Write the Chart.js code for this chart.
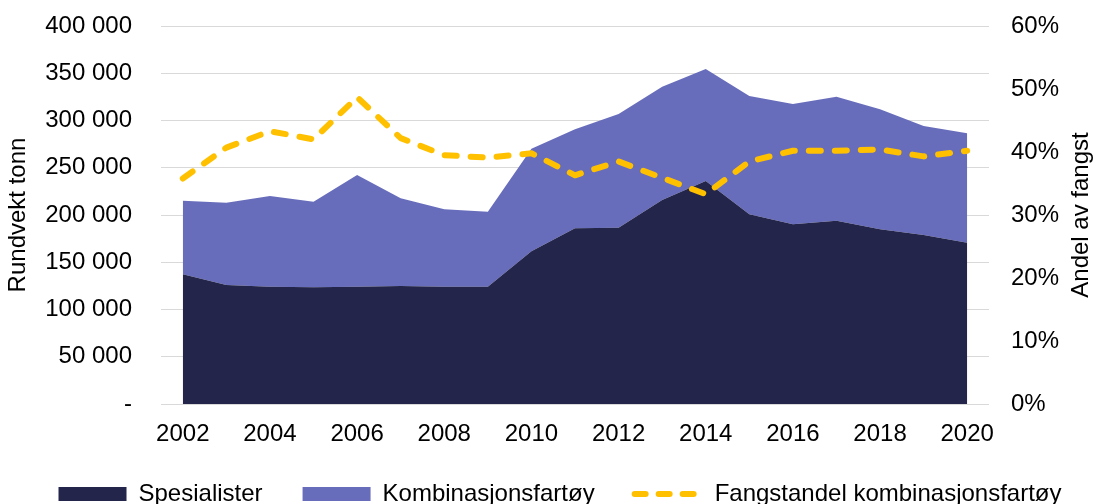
<!DOCTYPE html>
<html lang="no">
<head>
<meta charset="utf-8">
<script src="https://cdn.jsdelivr.net/npm/chart.js@4/dist/chart.umd.min.js"></script>
<style>
  html, body { margin: 0; padding: 0; background: #fff; overflow: hidden; }
  #wrap { width: 1094px; height: 504px; overflow: hidden; }
  #box { position: relative; width: 1094px; height: 524px; }
</style>
</head>
<body>
<div id="wrap"><div id="box"><canvas id="chartFangst"></canvas></div></div>
<script>
// data
const aar = ['2002', '2003', '2004', '2005', '2006', '2007', '2008', '2009', '2010', '2011',
  '2012', '2013', '2014', '2015', '2016', '2017', '2018', '2019', '2020'];
const spesialister = [137200, 125900, 124100, 123500, 124100, 124900, 124100, 124100, 161600, 185900,
  186600, 215900, 236000, 200700, 190200, 194000, 184900, 178800, 170700];
const kombinasjon = [77900, 87100, 96000, 90600, 118200, 92800, 81900, 79400, 108400, 104800,
  120300, 119900, 118500, 125200, 127300, 131200, 126900, 115400, 115700];
const fangstandel = [35.8, 40.7, 43.3, 42.0, 48.7, 42.2, 39.5, 39.1, 39.8, 36.3,
  38.5, 35.9, 33.3, 38.5, 40.2, 40.2, 40.4, 39.3, 40.2];

const FONT = '"Liberation Sans", Arial, sans-serif';
const STR = 24;
const FARGER = {
  navy: '#23254b',
  lilla: '#686dbb',
  gul: '#ffc000',
};
const STREK = [12, 14];

// tittel for høyre akse (leses nedenfra og opp)
const hoyreTittel = {
  id: 'hoyreTittel',
  afterDraw(chart) {
    const { ctx, chartArea } = chart;
    ctx.save();
    ctx.translate(1081, (chartArea.top + chartArea.bottom) / 2);
    ctx.rotate(-Math.PI / 2);
    ctx.font = STR + 'px ' + FONT;
    ctx.fillStyle = '#000';
    ctx.textAlign = 'center';
    ctx.textBaseline = 'middle';
    ctx.fillText('Andel av fangst', 0, 0);
    ctx.restore();
  }
};

// flytt legenden litt, tettere på aksen
const legendeFlytt = {
  id: 'legendeFlytt',
  afterLayout(chart) {
    const lg = chart.legend;
    if (!lg) return;
    lg.top -= 8;
    lg.bottom -= 8;
    lg.left += 13;
    lg.right += 13;
  }
};

// y-aksene skal ikke reservere plass for tick-padding over/under
const fastBredde = w => s => {
  s.width = w;
  s.paddingTop = 14;
  s.paddingBottom = 14;
};

new Chart(document.getElementById('chartFangst'), {
  type: 'line',
  data: {
    labels: aar,
    datasets: [
      {
        label: 'Spesialister',
        data: spesialister,
        yAxisID: 'y',
        backgroundColor: FARGER.navy,
        borderColor: FARGER.navy,
        borderWidth: 0,
        pointRadius: 0,
        fill: 'origin',
        order: 1,
      },
      {
        label: 'Kombinasjonsfartøy',
        data: kombinasjon,
        yAxisID: 'y',
        backgroundColor: FARGER.lilla,
        borderColor: FARGER.lilla,
        borderWidth: 0,
        pointRadius: 0,
        fill: '-1',
        order: 2,
      },
      {
        label: 'Fangstandel kombinasjonsfartøy',
        data: fangstandel,
        yAxisID: 'y1',
        borderColor: FARGER.gul,
        backgroundColor: FARGER.gul,
        borderWidth: 6,
        borderDash: STREK,
        borderCapStyle: 'round',
        borderJoinStyle: 'round',
        pointRadius: 0,
        fill: false,
        order: 0,
      },
    ],
  },
  options: {
    responsive: true,
    maintainAspectRatio: false,
    animation: false,
    layout: { padding: { top: 26, left: 0, right: 0, bottom: 0 } },
    scales: {
      x: {
        offset: true,
        grid: { display: false, drawTicks: false },
        border: { display: false },
        ticks: {
          autoSkip: false,
          maxRotation: 0,
          padding: 16,
          color: '#000',
          font: { family: FONT, size: STR },
          callback: (v, i) => (i % 2 === 0 ? aar[i] : ''),
        },
        afterFit: s => { s.height = 46; },
      },
      y: {
        stacked: true,
        position: 'left',
        min: 0,
        max: 400000,
        ticks: {
          stepSize: 50000,
          padding: 29,
          color: '#000',
          font: { family: FONT, size: STR },
          callback: v => (v === 0 ? '-' : String(v).replace(/\B(?=(\d{3})+(?!\d))/g, ' ')),
        },
        grid: { color: '#d9d9d9', lineWidth: 1, drawTicks: false },
        border: { display: false },
        title: {
          display: true,
          text: 'Rundvekt tonn',
          color: '#000',
          font: { family: FONT, size: STR },
          padding: { top: 4, bottom: 0 },
        },
        afterFit: fastBredde(161),
      },
      y1: {
        position: 'right',
        min: 0,
        max: 60,
        ticks: {
          stepSize: 10,
          padding: 22,
          color: '#000',
          font: { family: FONT, size: STR },
          callback: v => v + '%',
        },
        grid: { display: false, drawTicks: false },
        border: { display: false },
        afterFit: fastBredde(105),
      },
    },
    plugins: {
      tooltip: { enabled: false },
      legend: {
        position: 'bottom',
        labels: {
          usePointStyle: true,
          pointStyleWidth: 68,
          boxHeight: 14,
          padding: 40,
          color: '#000',
          font: { family: FONT, size: STR },
          generateLabels: chart => chart.data.datasets.map((ds, i) => ({
            text: ds.label,
            datasetIndex: i,
            hidden: false,
            fillStyle: i < 2 ? ds.backgroundColor : 'rgba(0,0,0,0)',
            strokeStyle: ds.borderColor,
            lineWidth: i < 2 ? 0 : 6,
            lineDash: i < 2 ? [] : [11, 13],
            lineCap: 'round',
            pointStyle: i < 2 ? 'rect' : 'line',
            fontColor: '#000',
          })),
        },
      },
    },
  },
  plugins: [hoyreTittel, legendeFlytt],
});
</script>
</body>
</html>
